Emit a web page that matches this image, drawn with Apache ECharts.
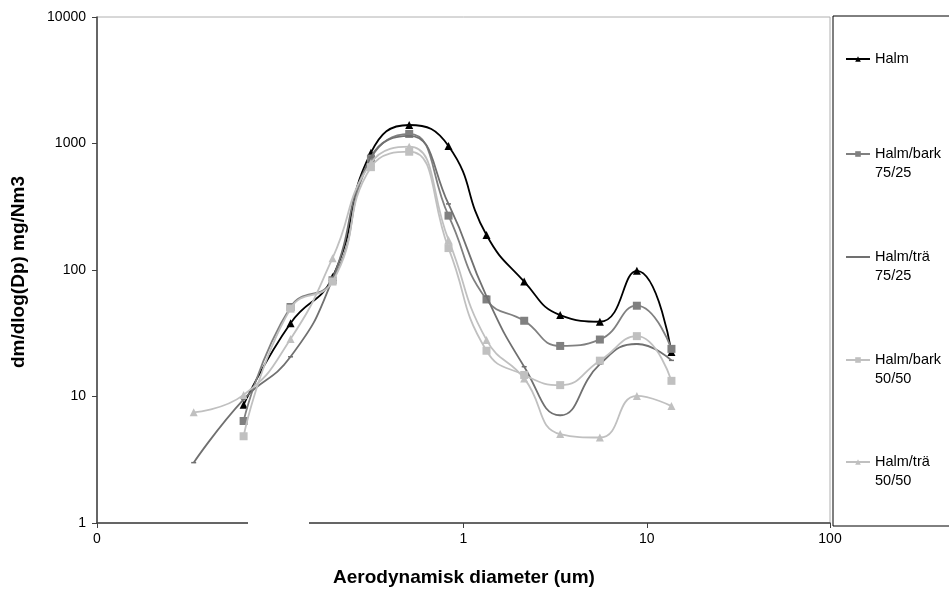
<!DOCTYPE html>
<html>
<head>
<meta charset="utf-8">
<script src="https://cdn.jsdelivr.net/npm/echarts@6/dist/echarts.min.js"></script>
<style>
html,body{margin:0;padding:0;background:#fff;}
#c{width:949px;height:590px;}
</style>
</head>
<body>
<div id="c"></div>
<script>
// Aerodynamic diameter (um) of impactor stages
var sizes = [0.0631, 0.1138, 0.1929, 0.3125, 0.5055, 0.8283, 1.335, 2.144, 3.370, 5.548, 8.831, 13.64];
// the two "trä" runs have an extra first stage
var sizesTra = [0.0337, 0.0631, 0.1138, 0.1929, 0.3125, 0.5055, 0.8283, 1.335, 2.144, 3.370, 5.548, 8.831, 13.64];

var halm       = [8.6, 38, 88, 846, 1400, 955, 189, 81, 44, 39, 98.5, 22.5];
var halmBark75 = [6.4, 51, 83, 760, 1190, 269, 58.5, 39.7, 25.1, 28.2, 52.2, 23.8];
var halmTra75  = [3.0, 9.5, 20.6, 85, 780, 1150, 333, 62, 17.2, 7.1, 18, 26, 19.3];
var halmBark50 = [4.85, 49.5, 81, 650, 861, 149, 23, 14.8, 12.3, 19.2, 30, 13.3];
var halmTra50  = [7.5, 10.3, 28.5, 124, 700, 944, 173, 28, 13.9, 5.05, 4.74, 10.1, 8.4];

var seriesNames = ['Halm', 'Halm/bark 75/25', 'Halm/trä 75/25', 'Halm/bark 50/50', 'Halm/trä 50/50'];
var legendLabels = ['Halm', 'Halm/bark\n75/25', 'Halm/trä\n75/25', 'Halm/bark\n50/50', 'Halm/trä\n50/50'];
var xTickLabels = ['0', '', '1', '10', '100'];
var yTickLabels = ['1', '10', '100', '1000', '10000'];
var xTitle = 'Aerodynamisk diameter (um)';
var yTitle = 'dm/dlog(Dp) mg/Nm3';

function pairs(xs, ys) { return ys.map(function (v, i) { return [xs[i], v]; }); }

var FONT = 'Liberation Sans';
var styles = [
  {color: '#000000', symbol: 'triangle', size: 8, legendMark: true},
  {color: '#808080', symbol: 'rect', size: 8, legendMark: true},
  {color: '#707070', symbol: 'rect', size: [5, 1.5], legendMark: false},
  {color: '#c0c0c0', symbol: 'rect', size: 8, legendMark: true},
  {color: '#c0c0c0', symbol: 'triangle', size: 8, legendMark: true}
];
var dataSets = [
  pairs(sizes, halm), pairs(sizes, halmBark75), pairs(sizesTra, halmTra75),
  pairs(sizes, halmBark50), pairs(sizesTra, halmTra50)
];

var series = seriesNames.map(function (n, i) {
  var s = styles[i];
  return {
    name: n, type: 'line', data: dataSets[i], smooth: 0.5,
    symbol: s.symbol, symbolSize: s.size, showSymbol: true,
    lineStyle: {color: s.color, width: 1.8},
    itemStyle: {color: s.color},
    emphasis: {disabled: true}, animation: false, z: 2 + i
  };
});

var LH = 19;
var legendTops = [59, 154, 257, 360, 462];
var legends = seriesNames.map(function (n, i) {
  var two = legendLabels[i].indexOf('\n') >= 0;
  var lg = {
    data: [n], orient: 'vertical', left: 845,
    top: two ? legendTops[i] - LH * 1.5 : legendTops[i] - LH / 2,
    padding: 0, itemWidth: 24, itemHeight: 7, selectedMode: false,
    formatter: function () { return two ? '\n' + legendLabels[i] : legendLabels[i]; },
    textStyle: {fontFamily: FONT, fontSize: 14.5, color: '#000', lineHeight: LH}
  };
  if (!styles[i].legendMark) { lg.itemStyle = {opacity: 0}; }
  return lg;
});

var chart = echarts.init(document.getElementById('c'), null, {renderer: 'canvas'});
chart.setOption({
  backgroundColor: '#fff',
  animation: false,
  grid: {left: 97, right: 119, top: 17, bottom: 67, show: true, borderColor: '#b0b0b0', borderWidth: 1},
  legend: legends,
  xAxis: {
    type: 'log', logBase: 10, min: 0.01, max: 100,
    axisLine: {show: true, lineStyle: {color: '#404040', width: 1.5}},
    axisTick: {show: true, length: 5, lineStyle: {color: '#404040'}},
    minorTick: {show: false}, splitLine: {show: false},
    axisLabel: {margin: 9, fontFamily: FONT, fontSize: 14, color: '#000',
      formatter: function (v, idx) { return xTickLabels[idx] !== undefined ? xTickLabels[idx] : ''; }}
  },
  yAxis: {
    type: 'log', logBase: 10, min: 1, max: 10000,
    axisLine: {show: true, lineStyle: {color: '#404040', width: 1.5}},
    axisTick: {show: true, length: 5, lineStyle: {color: '#404040'}},
    splitLine: {show: false},
    axisLabel: {margin: 11, fontFamily: FONT, fontSize: 14, color: '#000',
      formatter: function (v, idx) { return yTickLabels[idx] !== undefined ? yTickLabels[idx] : ''; }}
  },
  graphic: [
    {type: 'rect', shape: {x: 833, y: 16, width: 130, height: 510}, style: {fill: 'none', stroke: '#000', lineWidth: 1}, z: 1},
    {type: 'rect', shape: {x: 248, y: 520, width: 61, height: 8}, style: {fill: '#fff'}, z: 100},
    {type: 'text', x: 464, y: 578, style: {text: xTitle, font: 'bold 19px "Liberation Sans"', fill: '#000', align: 'center', verticalAlign: 'middle'}, z: 100},
    {type: 'text', x: 19, y: 272, rotation: Math.PI / 2, style: {text: yTitle, font: 'bold 19px "Liberation Sans"', fill: '#000', align: 'center', verticalAlign: 'middle'}, z: 100}
  ],
  series: series
});
</script>
</body>
</html>
